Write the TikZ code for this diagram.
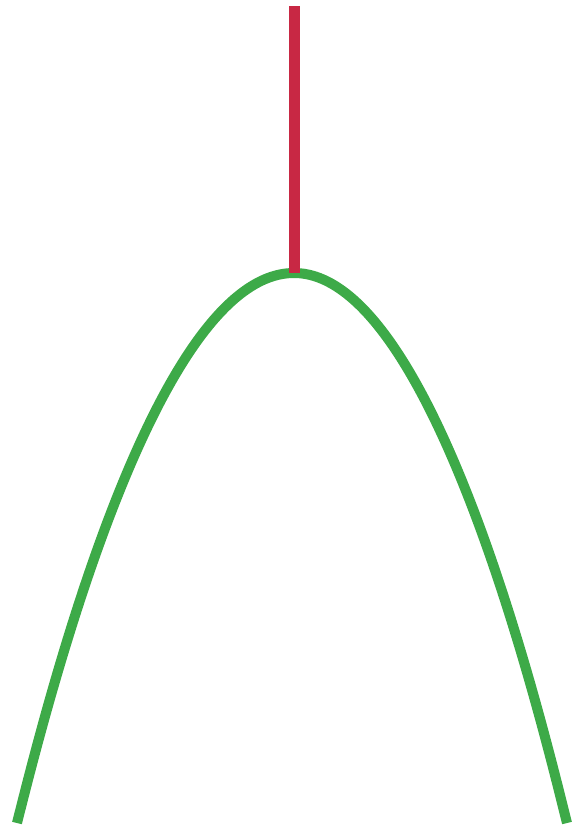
\documentclass[tikz,border=0pt]{standalone}
\usepackage{tikz}
\definecolor{curvegreen}{RGB}{61,170,72}
\definecolor{stemred}{RGB}{200,40,68}
\begin{document}
\begin{tikzpicture}[x=1pt,y=-1pt,
  curve/.style={draw=curvegreen,line width=10pt},
  stem/.style={draw=stemred,line width=11pt}]
\useasboundingbox (0,0) rectangle (572,828);
\coordinate (L) at (17,823);
\coordinate (V) at (294,273);
\coordinate (R) at (567,823);
\coordinate (T) at (294,6);
\draw[curve] (L) parabola bend (V) (R);
\draw[stem] (T) -- (V);
\end{tikzpicture}
\end{document}
